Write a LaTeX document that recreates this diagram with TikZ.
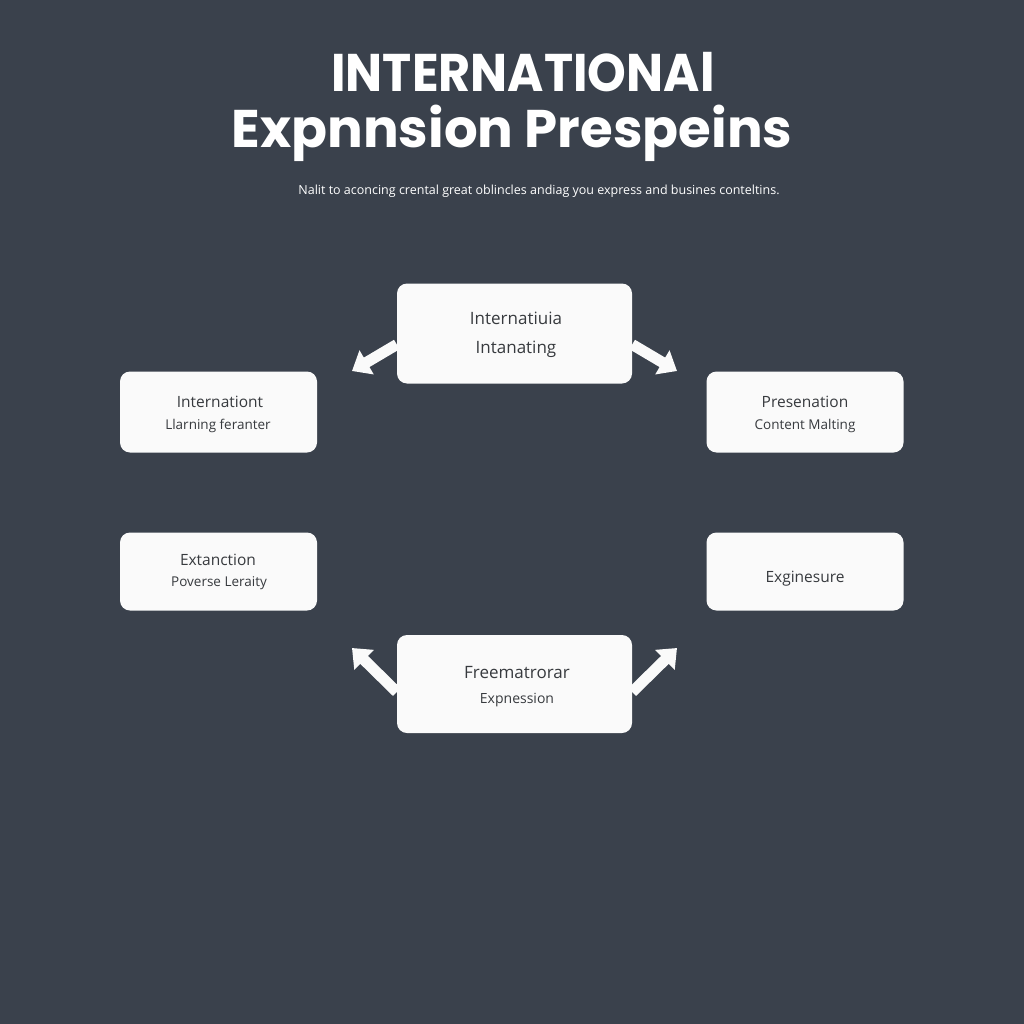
\documentclass[tikz,border=0pt]{standalone}
\usepackage{fontspec}
\setmainfont{Open Sans}
\newfontfamily\titlefont{Poppins}[BoldFont={Poppins Bold}]
\usetikzlibrary{arrows.meta}
\definecolor{bg}{RGB}{58,65,76}
\definecolor{boxfill}{RGB}{250,250,250}
\definecolor{txt}{RGB}{55,58,62}
\tikzset{
  card/.style={fill=boxfill, draw=none, rounded corners=10pt, inner sep=0pt},
  mainlbl/.style={text=txt, font=\fontsize{17}{20}\selectfont},
  sublbl/.style={text=txt, font=\fontsize{14}{17}\selectfont},
  flow/.style={draw=boxfill, line width=11pt, -{Triangle[width=27pt,length=17pt]}},
  titlelbl/.style={text=white, font=\titlefont\bfseries\fontsize{53}{56}\selectfont, anchor=base},
}
\begin{document}
\begin{tikzpicture}[x=1pt,y=-1pt]
\fill[bg] (0,0) rectangle (1024,1024);
\useasboundingbox (0,0) rectangle (1024,1024);
% title
\node[titlelbl, xscale=0.93] (t1) at (523,92) {INTERNATIONAl};
\node[titlelbl] (t2) at (512,148) {Expnnsion Prespeins};
\node[text=white, font=\fontsize{12.5}{14}\selectfont, anchor=base] (sub) at (539,195) {Nalit to aconcing crental great oblincles andiag you express and busines conteltins.};
% boxes
\node[card, minimum width=235pt, minimum height=100pt] (top) at (514.5,333.5) {};
\node[card, minimum width=197pt, minimum height=81pt] (lt) at (218.5,412) {};
\node[card, minimum width=197pt, minimum height=81pt] (rt) at (805,412) {};
\node[card, minimum width=197pt, minimum height=78pt] (lb) at (218.5,571.5) {};
\node[card, minimum width=197pt, minimum height=78pt] (rb) at (805,571.5) {};
\node[card, minimum width=235pt, minimum height=98pt] (bot) at (514.5,684) {};
% labels
\node[mainlbl, anchor=base] (top1) at (516,324) {Internatiuia};
\node[mainlbl, anchor=base] (top2) at (516,353) {Intanating};
\node[mainlbl, anchor=base, font=\fontsize{15.5}{18}\selectfont] (lt1) at (220,407) {Internationt};
\node[sublbl, anchor=base, font=\fontsize{13.5}{16}\selectfont] (lt2) at (218,429) {Llarning feranter};
\node[mainlbl, anchor=base, font=\fontsize{15.5}{18}\selectfont] (rt1) at (805,407) {Presenation};
\node[sublbl, anchor=base, font=\fontsize{13.5}{16}\selectfont] (rt2) at (805,429) {Content Malting};
\node[mainlbl, anchor=base, font=\fontsize{15.5}{18}\selectfont] (lb1) at (218,565) {Extanction};
\node[sublbl, anchor=base, font=\fontsize{13.5}{16}\selectfont] (lb2) at (219,586) {Poverse Leraity};
\node[mainlbl, anchor=base, font=\fontsize{15.5}{18}\selectfont] (rb1) at (805,582) {Exginesure};
\node[mainlbl, anchor=base] (bot1) at (517,678) {Freematrorar};
\node[sublbl, anchor=base] (bot2) at (517,703) {Expnession};
% arrows
\coordinate (atl) at (352,371);
\coordinate (atr) at (677,371);
\coordinate (abl) at (352,648);
\coordinate (abr) at (677,648);
\draw[flow] ([yshift=-11pt]top.west) -- (atl);
\draw[flow] ([yshift=-11pt]top.east) -- (atr);
\draw[flow] ([yshift=-8pt]bot.west) -- (abl);
\draw[flow] ([yshift=-8pt]bot.east) -- (abr);
\end{tikzpicture}
\end{document}
